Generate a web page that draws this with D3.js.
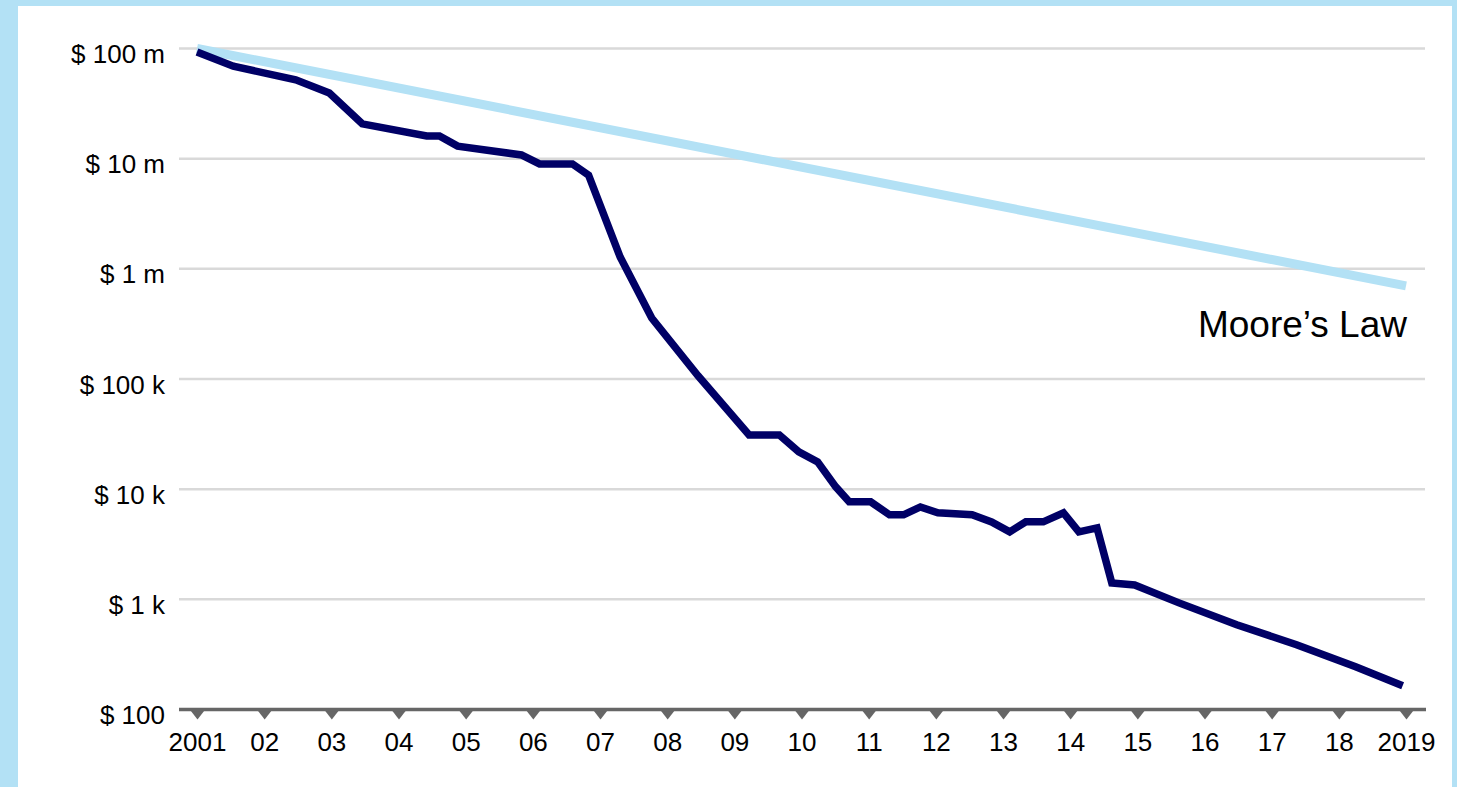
<!DOCTYPE html>
<html>
<head>
<meta charset="utf-8">
<script src="https://cdn.jsdelivr.net/npm/d3@7"></script>
<style>
  body { margin: 0; background: #b3e1f5; }
  text { font-family: "Liberation Sans", Arial, sans-serif; fill: #000; }
</style>
</head>
<body>
<script>
// cost per genome (x in years, y in dollars)
const years = [2001.0, 2001.54, 2002.47, 2002.97, 2003.46, 2004.42, 2004.61, 2004.88,
  2005.83, 2006.10, 2006.59, 2006.83, 2007.30, 2007.77, 2008.46, 2009.22, 2009.67,
  2009.96, 2010.24, 2010.51, 2010.71, 2011.03, 2011.31, 2011.52, 2011.77, 2012.03,
  2012.54, 2012.83, 2013.10, 2013.34, 2013.60, 2013.90, 2014.13, 2014.40, 2014.62,
  2014.96, 2015.62, 2016.48, 2017.37, 2018.25, 2018.95];
const costs = [93e6, 69e6, 52e6, 39.5e6, 20.7e6, 16.1e6, 16.1e6, 13.0e6,
  10.8e6, 8.96e6, 8.96e6, 7.1e6, 1.28e6, 358e3, 107e3, 31.1e3, 31.1e3,
  21.8e3, 17.7e3, 10.5e3, 7.67e3, 7.67e3, 5.85e3, 5.85e3, 6.9e3, 6.1e3,
  5.85e3, 5.05e3, 4.1e3, 5.05e3, 5.05e3, 6.1e3, 4.1e3, 4.45e3, 1.41e3,
  1.35e3, 929, 588, 387, 244, 164];

// Moore's law reference line
const mooreYears = [2001, 2019];
const mooreCosts = [1e8, 7e5];

const yTicks = [1e8, 1e7, 1e6, 1e5, 1e4, 1e3, 1e2];
const yLabels = ["$ 100 m", "$ 10 m", "$ 1 m", "$ 100 k", "$ 10 k", "$ 1 k", "$ 100"];
const xTicks = d3.range(2001, 2020);
const xLabels = ["2001", "02", "03", "04", "05", "06", "07", "08", "09", "10",
  "11", "12", "13", "14", "15", "16", "17", "18", "2019"];

const w = 1457, h = 787;

const svg = d3.select("body").append("svg")
  .attr("width", w)
  .attr("height", h)
  .style("display", "block");

// white panel inside the blue frame
svg.append("rect")
  .attr("x", 18).attr("y", 6)
  .attr("width", 1434).attr("height", h - 6)
  .attr("fill", "#fff");

const x = d3.scaleLinear().domain([2001, 2019]).range([197, 1406]);
const y = d3.scaleLog().domain([100, 1e8]).range([709.5, 48.5]);

const gridLeft = 179, gridRight = 1425;

// gridlines
svg.append("g")
  .selectAll("line")
  .data(yTicks.filter(d => d > 100))
  .enter()
  .append("line")
  .attr("x1", gridLeft).attr("x2", gridRight)
  .attr("y1", d => y(d)).attr("y2", d => y(d))
  .attr("stroke", "#d9d9d9")
  .attr("stroke-width", 2.5);

// y axis labels
const yAxis = d3.axisLeft(y)
  .tickValues(yTicks)
  .tickFormat((d, i) => yLabels[i])
  .tickSize(0)
  .tickPadding(14);

const gy = svg.append("g")
  .attr("transform", "translate(" + gridLeft + ",0)")
  .call(yAxis);
gy.select(".domain").remove();
gy.selectAll("text")
  .attr("dy", "0.54em")
  .style("font-size", "26px")
  .style("font-family", "'Liberation Sans', Arial, sans-serif")
  .attr("fill", "#000");

// x axis
const xAxis = d3.axisBottom(x)
  .tickValues(xTicks)
  .tickFormat((d, i) => xLabels[i])
  .tickSize(0)
  .tickPadding(23);

const gx = svg.append("g")
  .attr("transform", "translate(0," + y(100) + ")")
  .call(xAxis);
gx.select(".domain").remove();
gx.selectAll("text")
  .style("font-size", "26px")
  .style("font-family", "'Liberation Sans', Arial, sans-serif")
  .attr("fill", "#000");
gx.selectAll(".tick")
  .append("path")
  .attr("d", "M-7,1L7,1L0,10Z")
  .attr("fill", "#666");

svg.append("line")
  .attr("x1", gridLeft).attr("x2", gridRight + 1)
  .attr("y1", y(100)).attr("y2", y(100))
  .attr("stroke", "#666")
  .attr("stroke-width", 3.5);

// Moore's law line
const moore = mooreYears.map((d, i) => [d, mooreCosts[i]]);
svg.append("path")
  .datum(moore)
  .attr("fill", "none")
  .attr("stroke", "#b3e1f5")
  .attr("stroke-width", 9)
  .attr("d", d3.line().x(d => x(d[0])).y(d => y(d[1])));

svg.append("text")
  .attr("x", x(2019) + 1)
  .attr("y", y(mooreCosts[1]) + 51)
  .attr("text-anchor", "end")
  .style("font-size", "37px")
  .text("Moore\u2019s Law");

// cost line
const cost = years.map((d, i) => [d, costs[i]]);
svg.append("path")
  .datum(cost)
  .attr("fill", "none")
  .attr("stroke", "#000066")
  .attr("stroke-width", 7.5)
  .attr("stroke-linejoin", "miter")
  .attr("d", d3.line().x(d => x(d[0])).y(d => y(d[1])));
</script>
</body>
</html>
